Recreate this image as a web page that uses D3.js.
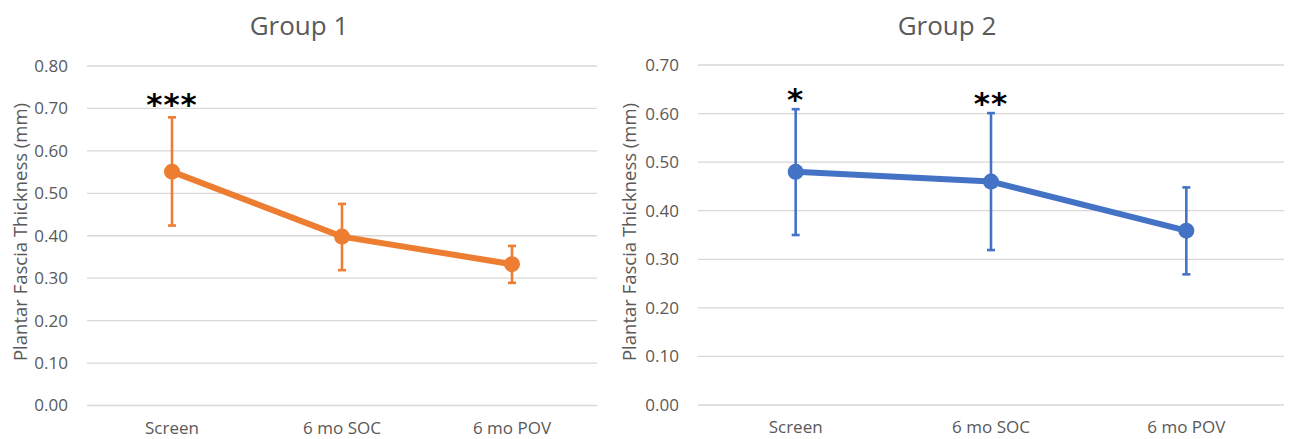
<!DOCTYPE html>
<html>
<head>
<meta charset="utf-8">
<script src="https://cdn.jsdelivr.net/npm/d3@7"></script>
<style>
  html, body { margin: 0; padding: 0; background: #fff; }
  svg { display: block; }
</style>
</head>
<body>
<svg id="chart" width="1297" height="439"></svg>
<script>
// ---- data ----
const categories = ["Screen", "6 mo SOC", "6 mo POV"];

const group1Title = "Group 1";
const group1Mean  = [0.551, 0.398, 0.333];
const group1Upper = [0.679, 0.475, 0.376];
const group1Lower = [0.424, 0.319, 0.289];
const group1Stars = ["***", "", ""];
const group1Ticks = [0, 0.1, 0.2, 0.3, 0.4, 0.5, 0.6, 0.7, 0.8];

const group2Title = "Group 2";
const group2Mean  = [0.480, 0.460, 0.359];
const group2Upper = [0.609, 0.601, 0.448];
const group2Lower = [0.350, 0.319, 0.269];
const group2Stars = ["*", "**", ""];
const group2Ticks = [0, 0.1, 0.2, 0.3, 0.4, 0.5, 0.6, 0.7];

const yTitle = "Plantar Fascia Thickness (mm)";

// ---- drawing ----
const svg = d3.select("#chart");
const FONT = "'Open Sans', 'Noto Sans', sans-serif";
const GREY = "#595959";

function panel(cfg) {
  const g = svg.append("g");
  const x = d3.scaleBand().domain(categories).range([cfg.x0, cfg.x1]);
  const y = d3.scaleLinear().domain([0, cfg.max]).range([cfg.yBottom, cfg.yTop]);

  // gridlines
  g.append("g").selectAll("line").data(cfg.ticks).join("line")
    .attr("x1", cfg.x0).attr("x2", cfg.x1)
    .attr("y1", d => y(d)).attr("y2", d => y(d))
    .attr("stroke", "#dcd6d6").attr("stroke-width", 1.3);

  // y axis labels
  const yAxis = d3.axisLeft(y).tickValues(cfg.ticks).tickFormat(d3.format(".2f")).tickSize(0).tickPadding(0);
  const ya = g.append("g").attr("transform", `translate(${cfg.x0 - 19},0)`).call(yAxis);
  ya.select(".domain").remove();
  ya.selectAll("text").style("font-size", "17px").style("fill", GREY).style("font-family", FONT);

  // x axis labels
  const xAxis = d3.axisBottom(x).tickSize(0).tickPadding(0);
  const xa = g.append("g").attr("transform", `translate(0,${cfg.yBottom + 16})`).call(xAxis);
  xa.select(".domain").remove();
  xa.selectAll("text").style("font-size", "17px").style("fill", GREY).style("font-family", FONT);

  // title
  g.append("text").attr("x", cfg.titleX).attr("y", 35)
    .attr("text-anchor", "middle")
    .style("font-size", "26px").style("fill", GREY).style("font-family", FONT)
    .text(cfg.title);

  // y title
  g.append("text")
    .attr("transform", `translate(${cfg.yTitleX},232) rotate(-90)`)
    .attr("text-anchor", "middle").attr("dominant-baseline", "central")
    .style("font-size", "18.5px").style("fill", GREY).style("font-family", FONT)
    .text(yTitle);

  const cx = i => x(categories[i]) + x.bandwidth() / 2;
  const idx = categories.map((c, i) => i);

  // error bars
  const eb = g.append("g").attr("stroke", cfg.color).attr("stroke-width", 2.6);
  eb.selectAll("line.v").data(idx).join("line").attr("class", "v")
    .attr("x1", cx).attr("x2", cx)
    .attr("y1", i => y(cfg.upper[i])).attr("y2", i => y(cfg.lower[i]));
  eb.selectAll("line.t").data(idx).join("line").attr("class", "t")
    .attr("x1", i => cx(i) - 4).attr("x2", i => cx(i) + 4)
    .attr("y1", i => y(cfg.upper[i])).attr("y2", i => y(cfg.upper[i]));
  eb.selectAll("line.b").data(idx).join("line").attr("class", "b")
    .attr("x1", i => cx(i) - 4).attr("x2", i => cx(i) + 4)
    .attr("y1", i => y(cfg.lower[i])).attr("y2", i => y(cfg.lower[i]));

  // line
  const line = d3.line().x(i => cx(i)).y(i => y(cfg.mean[i]));
  g.append("path").datum(idx).attr("d", line)
    .attr("fill", "none").attr("stroke", cfg.color).attr("stroke-width", 6)
    .attr("stroke-linejoin", "round");

  // markers
  g.selectAll("circle.m").data(idx).join("circle").attr("class", "m")
    .attr("cx", cx).attr("cy", i => y(cfg.mean[i])).attr("r", 8)
    .attr("fill", cfg.color);

  // significance stars
  g.selectAll("text.star").data(idx.filter(i => cfg.stars[i])).join("text").attr("class", "star")
    .attr("x", cx).attr("y", i => cfg.starY[i])
    .attr("text-anchor", "middle")
    .style("font-family", "'DejaVu Sans', sans-serif")
    .style("font-weight", "bold").style("font-size", "31px").style("fill", "#000")
    .style("letter-spacing", "1px")
    .text(i => cfg.stars[i]);
}

panel({
  title: group1Title, titleX: 299, yTitleX: 19.5,
  x0: 87, x1: 597, yBottom: 405.5, yTop: 66, max: 0.8,
  ticks: group1Ticks, mean: group1Mean, upper: group1Upper, lower: group1Lower,
  stars: group1Stars, starY: [115, 0, 0], color: "#ED7D31"
});

panel({
  title: group2Title, titleX: 947, yTitleX: 628.5,
  x0: 698, x1: 1284, yBottom: 405, yTop: 65, max: 0.7,
  ticks: group2Ticks, mean: group2Mean, upper: group2Upper, lower: group2Lower,
  stars: group2Stars, starY: [110, 114, 0], color: "#4472C4"
});
</script>
</body>
</html>
